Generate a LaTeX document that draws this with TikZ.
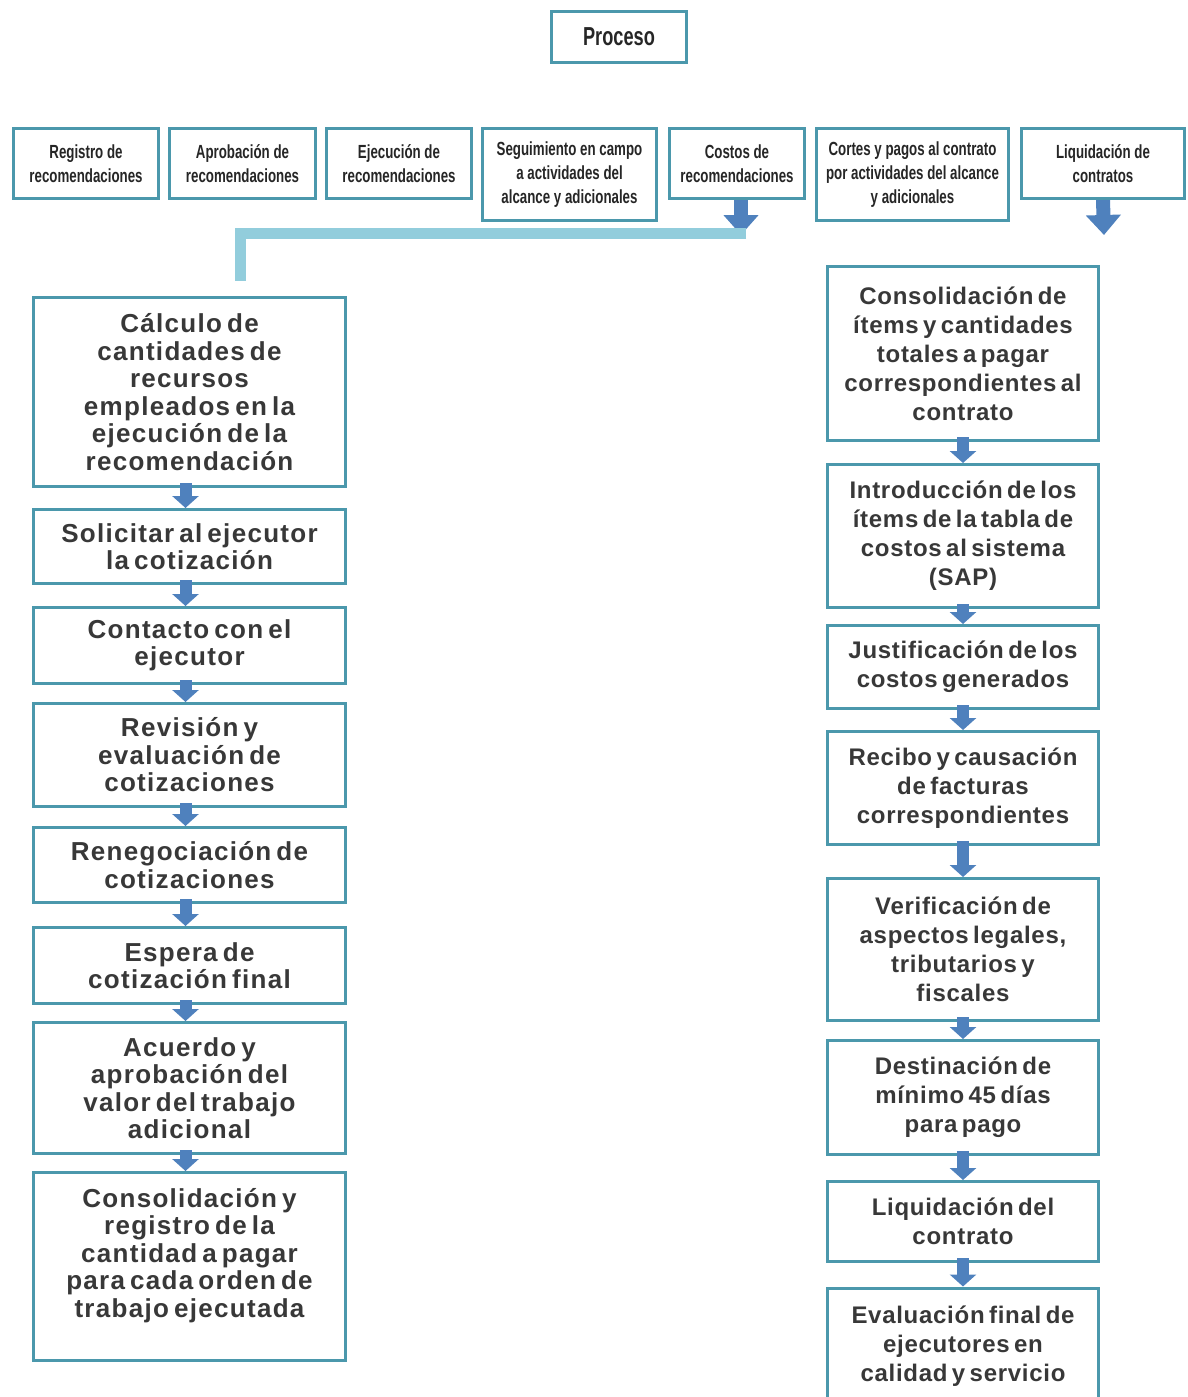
\documentclass[tikz,border=0pt]{standalone}
\usepackage{fontspec}
\setmainfont{Liberation Sans}
\newfontfamily\boxfont[LetterSpace=3,WordSpace=0.6]{Liberation Sans}
\newfontfamily\wideboxfont[LetterSpace=5,WordSpace=0.6]{Liberation Sans}
\newfontfamily\headfont[FakeStretch=0.7]{Liberation Sans}
\usepackage{xcolor}
\usetikzlibrary{arrows.meta}
\definecolor{boxline}{RGB}{75,152,172}
\definecolor{flowblue}{RGB}{79,129,189}
\definecolor{linkblue}{RGB}{146,205,220}

\begin{document}
\begin{tikzpicture}[x=1pt,y=-1pt,
    head box/.style={draw=boxline,line width=3pt,fill=white,align=center,inner sep=2pt,
      text=black!85,font=\headfont\bfseries\fontsize{19}{24}\selectfont},
    main box/.style={draw=boxline,line width=3pt,fill=white,align=center,inner sep=2pt,
      text=black!78},
    left box/.style={main box,minimum width=312pt,font=\wideboxfont\bfseries\fontsize{26}{27.5}\selectfont},
    right box/.style={main box,minimum width=271pt,font=\boxfont\bfseries\fontsize{24}{29}\selectfont},
    step arrow/.style={draw=flowblue,line width=12pt,-{Triangle[width=26pt,length=12pt]}},
    big arrow/.style={draw=flowblue,line width=14pt,-{Triangle[width=34pt,length=20pt]}},
    link line/.style={draw=linkblue,line width=11pt}]
  \useasboundingbox (0,0) rectangle (1188,1397);

  % Nodes
  \node[head box,minimum width=135pt,minimum height=51pt,
        font=\headfont\bfseries\fontsize{26}{30}\selectfont] (proc) at (619,37) {Proceso};

  \node[head box,minimum width=145pt,minimum height=70pt] (reg) at (86,163.5) {Registro de\\recomendaciones};
  \node[head box,minimum width=146pt,minimum height=70pt] (apr) at (242.5,163.5) {Aprobación de\\recomendaciones};
  \node[head box,minimum width=145pt,minimum height=70pt] (eje) at (399,163.5) {Ejecución de\\recomendaciones};
  \node[head box,minimum width=174pt,minimum height=92pt] (seg) at (569.5,174.5) {Seguimiento en campo\\a actividades del\\alcance y adicionales};
  \node[head box,minimum width=135pt,minimum height=70pt] (cos) at (737,163.5) {Costos de\\recomendaciones};
  \node[head box,minimum width=192pt,minimum height=92pt] (cor) at (912.5,174.5) {Cortes y pagos al contrato\\por actividades del alcance\\y adicionales};
  \node[head box,minimum width=163pt,minimum height=70pt] (liq) at (1103,163.5) {Liquidación de\\contratos};

  \coordinate (cosend) at (741,235);
  \coordinate (liqend) at (1104,235);
  \coordinate (linkturn) at (240,233);
  \coordinate (linkend) at (240,281);

  % left column
  \node[left box,minimum height=189pt] (calc) at (189.5,392) {Cálculo de\\cantidades de\\recursos\\empleados en la\\ejecución de la\\recomendación};
  \node[left box,minimum height=74pt] (soli) at (189.5,546.5) {Solicitar al ejecutor\\la cotización};
  \node[left box,minimum height=76pt] (cont) at (189.5,645.5) {Contacto con el\\ejecutor};
  \node[left box,minimum height=103pt] (revi) at (189.5,755) {Revisión y\\evaluación de\\cotizaciones};
  \node[left box,minimum height=75pt] (rene) at (189.5,865) {Renegociación de\\cotizaciones};
  \node[left box,minimum height=76pt] (espe) at (189.5,965.5) {Espera de\\cotización final};
  \node[left box,minimum height=131pt] (acue) at (189.5,1088) {Acuerdo y\\aprobación del\\valor del trabajo\\adicional};
  \node[left box,minimum height=188pt] (creg) at (189.5,1266.5) {Consolidación y\\registro de la\\cantidad a pagar\\para cada orden de\\trabajo ejecutada\\ \mbox{}};

  % right column
  \node[right box,minimum height=174pt] (cite) at (963,353.5) {Consolidación de\\ítems y cantidades\\totales a pagar\\correspondientes al\\contrato};
  \node[right box,minimum height=143pt] (intr) at (963,536) {Introducción de los\\ítems de la tabla de\\costos al sistema\\(SAP)};
  \node[right box,minimum height=83pt] (just) at (963,667) {Justificación de los\\costos generados};
  \node[right box,minimum height=113pt] (reci) at (963,788) {Recibo y causación\\de facturas\\correspondientes};
  \node[right box,minimum height=142pt] (veri) at (963,949.5) {Verificación de\\aspectos legales,\\tributarios y\\fiscales};
  \node[right box,minimum height=114pt] (dest) at (963,1097.5) {Destinación de\\mínimo 45 días\\para pago};
  \node[right box,minimum height=80pt] (lcon) at (963,1221.5) {Liquidación del\\contrato};
  \node[right box,minimum height=116pt] (eval) at (963,1346) {Evaluación final de\\ejecutores en\\calidad y servicio};

  % Edges
  \draw[big arrow] ([xshift=4pt]cos.south) -- (cosend);
  \draw[big arrow] (liq.south) -- (liqend);
  \draw[link line] (746,233) -- (linkturn) -- (linkend);

  \foreach \a/\b in {calc/soli,soli/cont,cont/revi,revi/rene,rene/espe,espe/acue,acue/creg}
    \draw[step arrow] ([xshift=-4pt,yshift=5pt]\a.south) -- ([xshift=-4pt]\b.north);
  \foreach \a/\b in {cite/intr,intr/just,just/reci,reci/veri,veri/dest,dest/lcon,lcon/eval}
    \draw[step arrow] ([yshift=5pt]\a.south) -- (\b.north);
\end{tikzpicture}
\end{document}
